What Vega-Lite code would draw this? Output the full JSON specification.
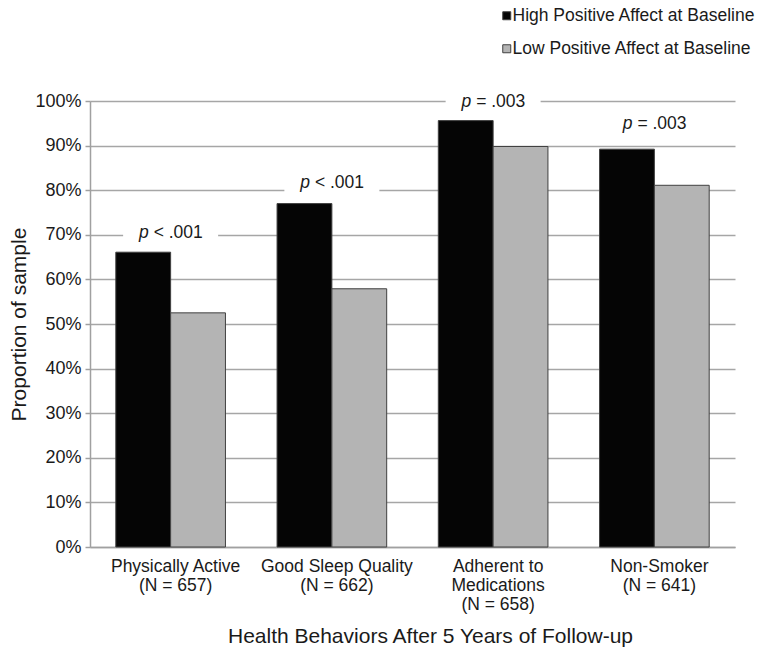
{
  "$schema": "https://vega.github.io/schema/vega-lite/v6.json",
  "width": 645,
  "height": 446,
  "autosize": "none",
  "padding": {"left": 90, "top": 101, "right": 34, "bottom": 113},
  "background": "white",
  "config": {
    "font": "Liberation Sans",
    "view": {"stroke": null}
  },
  "datasets": {
    "bars": [
      {"behavior": "Physically Active|(N = 657)", "group": "High Positive Affect at Baseline", "value": 0.661},
      {"behavior": "Physically Active|(N = 657)", "group": "Low Positive Affect at Baseline", "value": 0.525},
      {"behavior": "Good Sleep Quality|(N = 662)", "group": "High Positive Affect at Baseline", "value": 0.770},
      {"behavior": "Good Sleep Quality|(N = 662)", "group": "Low Positive Affect at Baseline", "value": 0.579},
      {"behavior": "Adherent to|Medications|(N = 658)", "group": "High Positive Affect at Baseline", "value": 0.956},
      {"behavior": "Adherent to|Medications|(N = 658)", "group": "Low Positive Affect at Baseline", "value": 0.898},
      {"behavior": "Non-Smoker|(N = 641)", "group": "High Positive Affect at Baseline", "value": 0.892},
      {"behavior": "Non-Smoker|(N = 641)", "group": "Low Positive Affect at Baseline", "value": 0.811}
    ],
    "pvals": [
      {"behavior": "Physically Active|(N = 657)", "p": "p", "rest": "< .001", "pos": 0.703},
      {"behavior": "Good Sleep Quality|(N = 662)", "p": "p", "rest": "< .001", "pos": 0.816},
      {"behavior": "Adherent to|Medications|(N = 658)", "p": "p", "rest": "= .003", "pos": 0.998},
      {"behavior": "Non-Smoker|(N = 641)", "p": "p", "rest": "= .003", "pos": 0.948}
    ]
  },
  "encoding": {
    "x": {
      "field": "behavior",
      "type": "nominal",
      "sort": null,
      "scale": {"paddingInner": 0.32, "paddingOuter": 0.16},
      "axis": {
        "title": "Health Behaviors After 5 Years of Follow-up",
        "titleFontSize": 21,
        "titleFontWeight": "normal",
        "titleColor": "#1a1a1a",
        "titleX": 340,
        "titleY": 89,
        "titleBaseline": "middle",
        "titleAlign": "center",
        "labelExpr": "split(datum.label, '|')",
        "labelAngle": 0,
        "labelFontSize": 17.5,
        "labelColor": "#1a1a1a",
        "labelLineHeight": 19,
        "labelPadding": 10,
        "labelOffset": 5,
        "labelLimit": 0,
        "ticks": false,
        "domainColor": "#a0a0a0",
        "domainWidth": 1.5
      }
    }
  },
  "layer": [
    {
      "data": {"name": "bars"},
      "mark": {"type": "bar", "stroke": "#404040", "strokeWidth": 1},
      "encoding": {
        "xOffset": {"field": "group", "type": "nominal", "scale": {"paddingInner": 0, "paddingOuter": 0}},
        "y": {
          "field": "value",
          "type": "quantitative",
          "scale": {"domain": [0, 1]},
          "axis": {
            "title": "Proportion of sample",
            "titleFontSize": 21,
            "titleFontWeight": "normal",
            "titleColor": "#1a1a1a",
            "titleX": -71,
            "titleY": 223,
            "titleAngle": -90,
            "titleAlign": "center",
            "titleBaseline": "middle",
            "format": ".0%",
            "values": [0, 0.1, 0.2, 0.3, 0.4, 0.5, 0.6, 0.7, 0.8, 0.9, 1],
            "labelFontSize": 18,
            "labelColor": "#1a1a1a",
            "labelPadding": 4,
            "tickSize": 5,
            "tickColor": "#a0a0a0",
            "tickWidth": 1.5,
            "domainColor": "#a0a0a0",
            "domainWidth": 1.5,
            "grid": true,
            "gridColor": "#a6a6a6",
            "gridWidth": 1.4
          }
        },
        "color": {
          "field": "group",
          "type": "nominal",
          "scale": {
            "domain": ["High Positive Affect at Baseline", "Low Positive Affect at Baseline"],
            "range": ["#050505", "#b4b4b4"]
          },
          "legend": {
            "title": null,
            "orient": "none",
            "legendX": 408,
            "legendY": -94,
            "symbolType": "square",
            "symbolSize": 64,
            "symbolStrokeColor": "#404040",
            "symbolStrokeWidth": 1,
            "labelFontSize": 17.5,
            "labelColor": "#1a1a1a",
            "labelOffset": -3,
            "rowPadding": 14,
            "labelLimit": 0
          }
        }
      }
    },
    {
      "data": {"name": "pvals"},
      "mark": {"type": "tick", "orient": "horizontal", "size": 95, "thickness": 24, "color": "white", "opacity": 1},
      "encoding": {
        "y": {"field": "pos", "type": "quantitative"}
      }
    },
    {
      "data": {"name": "pvals"},
      "mark": {"type": "text", "align": "right", "baseline": "middle", "dx": -22, "fontSize": 17.5, "fontStyle": "italic", "color": "#1a1a1a"},
      "encoding": {
        "y": {"field": "pos", "type": "quantitative"},
        "text": {"field": "p"}
      }
    },
    {
      "data": {"name": "pvals"},
      "mark": {"type": "text", "align": "left", "baseline": "middle", "dx": -17, "fontSize": 17.5, "color": "#1a1a1a"},
      "encoding": {
        "y": {"field": "pos", "type": "quantitative"},
        "text": {"field": "rest"}
      }
    }
  ]
}
